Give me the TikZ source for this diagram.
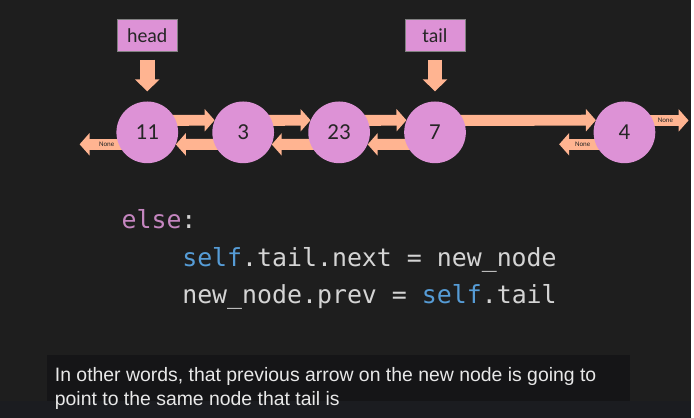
\documentclass[tikz,border=0pt]{standalone}
\usepackage{fontspec}
\setmainfont{Carlito}
\newfontfamily\codefont{DejaVu Sans Mono}
\newfontfamily\subfont{Liberation Sans}
\usepackage{xcolor}
\usetikzlibrary{arrows.meta, positioning}
\definecolor{bgdark}{RGB}{30,30,30}
\definecolor{boxdark}{RGB}{21,21,23}
\definecolor{stripdark}{RGB}{27,28,32}
\definecolor{orchid}{RGB}{221,146,214}
\definecolor{peach}{RGB}{255,180,145}
\definecolor{kwpink}{RGB}{197,134,192}
\definecolor{selfblue}{RGB}{86,156,214}
\definecolor{codegray}{RGB}{212,212,212}
\definecolor{subwhite}{RGB}{232,232,232}
\pgfdeclarelayer{canvas}
\pgfdeclarelayer{links}
\pgfsetlayers{canvas,links,main}
\newcommand{\us}{\char`\_}

\begin{document}
\begin{tikzpicture}[
    x=1pt, y=-1pt,
    item/.style={circle, fill=orchid, minimum size=62pt, inner sep=0pt, text=black!85, font=\fontsize{23}{23}\selectfont},
    ptrbox/.style={rectangle, fill=orchid, draw=black!50, minimum width=60pt, minimum height=32pt, text=black!85, font=\fontsize{20}{20}\selectfont},
    link/.style={peach, line width=11pt, -{Triangle[width=22pt, length=10pt]}},
    ptr/.style={peach, line width=15pt, -{Triangle[width=24pt, length=12pt]}, shorten <=8pt, shorten >=10pt},
    nonetag/.style={text=black!85, inner sep=0pt, font=\fontsize{7}{7}\selectfont},
    code/.style={anchor=base west, inner sep=0pt, text=codegray, font=\codefont\fontsize{25}{25}\selectfont},
    subline/.style={anchor=base west, inner sep=0pt, text=subwhite, font=\subfont\fontsize{19.5}{19.5}\selectfont},
    node distance=34pt
]
\begin{pgfonlayer}{canvas}
\fill [bgdark] (0,0) rectangle (694,420);
\fill [stripdark] (0,403) rectangle (694,420);
\fill [boxdark] (47,357) rectangle (633,403);
\end{pgfonlayer}

\node [item] (n11) at (148,133) {11};
\node [item, right=of n11] (n3) {3};
\node [item, right=of n3] (n23) {23};
\node [item, right=of n23] (n7) {7};
\node [item, right=128pt of n7] (n4) {4};

\node [ptrbox, above=50pt of n11] (head) {head};
\node [ptrbox, above=50pt of n7] (tail) {tail};

\coordinate (nil11) at (80,145);
\coordinate (nil4prev) at (562,145);
\coordinate (nil4next) at (692,121);

\begin{pgfonlayer}{links}
\foreach \a/\b in {n11/n3, n3/n23, n23/n7, n7/n4}
    \draw [link] ([yshift=12pt]\a.center) -- (\b.157);
\foreach \a/\b in {n11/n3, n3/n23, n23/n7}
    \draw [link] ([yshift=-12pt]\b.center) -- (\a.-23);
\draw [link] ([yshift=-12pt]n11.center) -- (nil11) node [nonetag, pos=0.6] {None};
\draw [link] ([yshift=-12pt]n4.center) -- (nil4prev) node [nonetag, pos=0.64] {None};
\draw [link] ([yshift=12pt]n4.center) -- (nil4next) node [nonetag, pos=0.64] {None};
\draw [ptr] (head) -- (n11);
\draw [ptr] (tail) -- (n7);
\end{pgfonlayer}

\node [code] (elseline) at (122,230) {\textcolor{kwpink}{else}:};
\node [code] (nextline) at (183,268) {\textcolor{selfblue}{self}.tail.next = new\us node};
\node [code] (prevline) at (183,305) {new\us node.prev = \textcolor{selfblue}{self}.tail};

\node [subline] (subtop) at (55,383) {In other words, that previous arrow on the new node is going to};
\node [subline] (subbottom) at (55,408) {point to the same node that tail is};
\end{tikzpicture}
\end{document}
